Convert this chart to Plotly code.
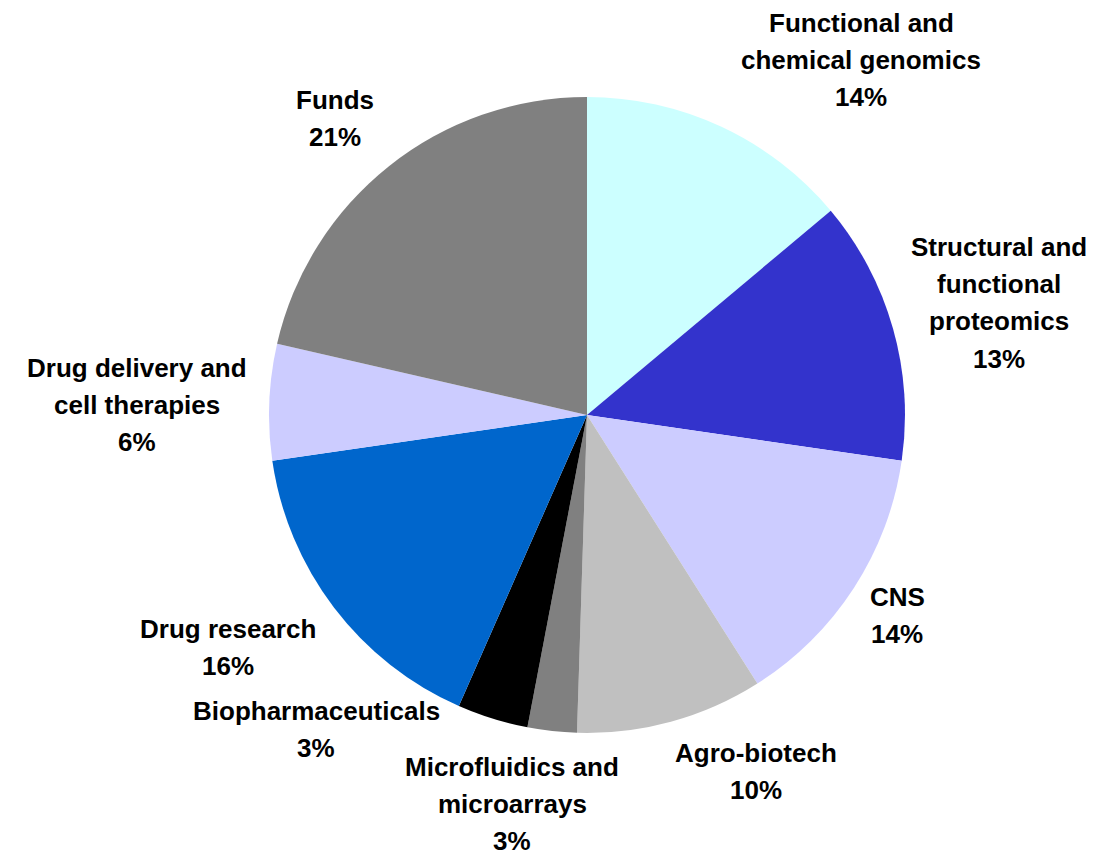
import plotly.graph_objects as go

W, H = 1099, 854
OFF = 8  # page body margin offset

labels = [
    "Functional and\nchemical genomics",
    "Structural and\nfunctional\nproteomics",
    "CNS",
    "Agro-biotech",
    "Microfluidics and\nmicroarrays",
    "Biopharmaceuticals",
    "Drug research",
    "Drug delivery and\ncell therapies",
    "Funds",
]
values = [13.9, 13.4, 13.7, 9.5, 2.5, 3.6, 16.1, 5.9, 21.4]
pct_labels = ["14%", "13%", "14%", "10%", "3%", "3%", "16%", "6%", "21%"]
colors = ["#CCFFFF", "#3333CC", "#CCCCFF", "#C0C0C0", "#808080",
          "#000000", "#0066CC", "#CCCCFF", "#808080"]

# label placement (pixel centre x, centre y of first line, in page pixels)
label_pos = [(861, 22), (999, 246), (897, 596), (756, 752), (512, 766),
             (316, 710), (228, 628), (137, 367), (335, 99)]
line_gap = 37.2

cx, cy, r = 587 - OFF, 415 - OFF, 318

fig = go.Figure(go.Pie(
    labels=[l.replace("\n", " ") for l in labels],
    values=values,
    sort=False,
    direction="clockwise",
    rotation=0,
    marker=dict(colors=colors, line=dict(width=0)),
    textinfo="none",
    hoverinfo="label+percent",
    domain=dict(x=[(cx - r) / W, (cx + r) / W],
                y=[(H - cy - r) / H, (H - cy + r) / H]),
))

annotations = []
for lab, pct, (px, py) in zip(labels, pct_labels, label_pos):
    lines = lab.split("\n") + [pct]
    for i, ln in enumerate(lines):
        yy = py + i * line_gap - OFF
        annotations.append(dict(
            x=(px - OFF) / W, y=1 - (yy + 1) / H, xref="paper", yref="paper",
            text="<b>" + ln + "</b>", showarrow=False,
            xanchor="center", yanchor="middle",
            font=dict(family="Liberation Sans, Arial, sans-serif", size=26, color="#000000"),
        ))

fig.update_layout(
    width=W, height=H,
    margin=dict(l=0, r=0, t=0, b=0),
    showlegend=False,
    paper_bgcolor="#FFFFFF",
    plot_bgcolor="#FFFFFF",
    annotations=annotations,
)

fig.write_html("out.html")
